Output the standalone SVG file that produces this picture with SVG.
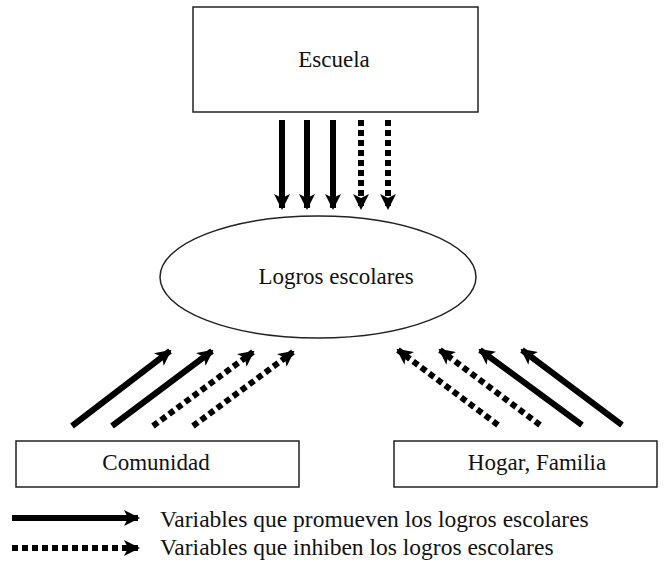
<svg xmlns="http://www.w3.org/2000/svg" width="666" height="562" viewBox="0 0 666 562">
<style>
.box{fill:#fff;stroke:#222;stroke-width:1.5}
.lbl{font-family:"Liberation Serif","Times New Roman",serif;font-size:23px;fill:#111;text-anchor:middle}
.leg{font-family:"Liberation Serif","Times New Roman",serif;font-size:23.5px;fill:#111}
.solid{stroke:#000;stroke-width:6;fill:none;marker-end:url(#ah)}
.dot{stroke:#000;stroke-width:6;fill:none;stroke-dasharray:6 4;marker-end:url(#ah)}
</style>
<defs>
<marker id="ah" markerUnits="userSpaceOnUse" viewBox="0 0 16 16" refX="14" refY="8" markerWidth="16" markerHeight="16" orient="auto">
<path d="M0,0 L16,8 L0,16 L4,8 Z" fill="#000"/>
</marker>
</defs>
<rect width="666" height="562" fill="#fff"/>
<g id="escuela">
<rect class="box" x="193" y="7" width="285" height="105"/>
<text class="lbl" x="334" y="67">Escuela</text>
</g>
<g id="logros">
<ellipse cx="318" cy="277" rx="158" ry="61" fill="#fff" stroke="#222" stroke-width="1.5"/>
<text class="lbl" x="336" y="284">Logros escolares</text>
</g>
<g id="comunidad">
<rect class="box" x="16" y="441" width="283" height="46"/>
<text class="lbl" x="156" y="470">Comunidad</text>
</g>
<g id="hogar">
<rect class="box" x="394" y="441" width="263" height="46"/>
<text class="lbl" x="537" y="470">Hogar, Familia</text>
</g>
<g id="connectors">
<line class="solid" x1="282" y1="120" x2="282" y2="208"/>
<line class="solid" x1="307" y1="120" x2="307" y2="208"/>
<line class="solid" x1="333" y1="120" x2="333" y2="208"/>
<line class="dot" x1="361" y1="120" x2="361" y2="208"/>
<line class="dot" x1="388" y1="120" x2="388" y2="208"/>
<line class="solid" x1="72" y1="426" x2="170" y2="351"/>
<line class="solid" x1="112" y1="426" x2="212" y2="351"/>
<line class="dot" x1="153" y1="426" x2="253" y2="352"/>
<line class="dot" x1="193" y1="426" x2="293" y2="352"/>
<line class="dot" x1="498" y1="425" x2="398" y2="350"/>
<line class="dot" x1="540" y1="425" x2="440" y2="350"/>
<line class="solid" x1="582" y1="425" x2="480" y2="350"/>
<line class="solid" x1="622" y1="425" x2="522" y2="350"/>
</g>
<g id="legend">
<line class="solid" x1="12" y1="518" x2="138" y2="518"/>
<line class="dot" x1="12" y1="548" x2="138" y2="548"/>
<text class="leg" x="160" y="527">Variables que promueven los logros escolares</text>
<text class="leg" x="160" y="555">Variables que inhiben los logros escolares</text>
</g>
</svg>
